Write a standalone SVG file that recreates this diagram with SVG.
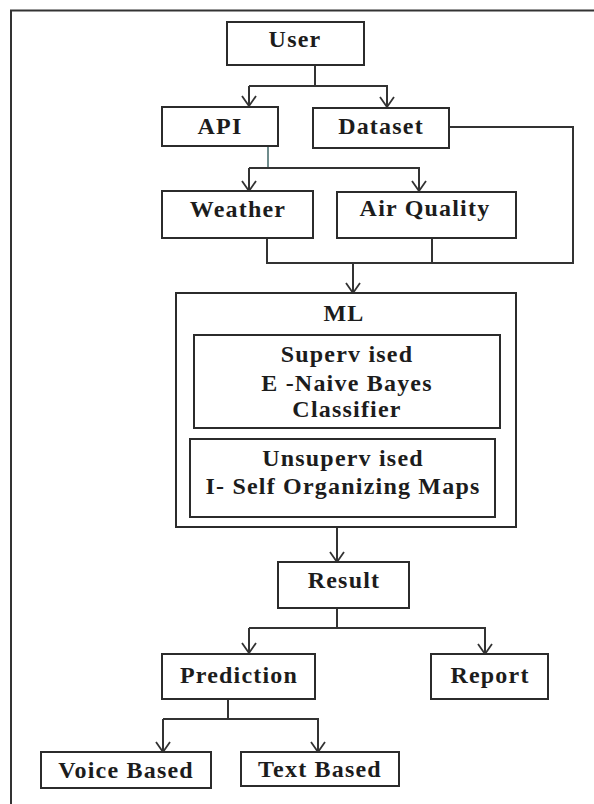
<svg xmlns="http://www.w3.org/2000/svg" width="594" height="804" viewBox="0 0 594 804">
<defs>
<marker id="arr" viewBox="0 0 13 16" refX="12" refY="8" markerWidth="13" markerHeight="16" markerUnits="userSpaceOnUse" orient="auto">
<path d="M2,1 L12,8 L2,15" fill="none" stroke="#333" stroke-width="1.8"/>
</marker>
</defs>
<style>
.box{fill:#fff;stroke:#2b2b2b;stroke-width:2}
.t{font-family:"Liberation Serif","Times New Roman",serif;font-weight:bold;font-size:24px;letter-spacing:1.2px;fill:#1c1c1c;text-anchor:middle}
.c{fill:none;stroke:#333;stroke-width:2}
.ca{fill:none;stroke:#333;stroke-width:2;marker-end:url(#arr)}
</style>
<rect width="594" height="804" fill="#fff"/>
<g id="frame">
<path d="M11,804 V10.5 H594" fill="none" stroke="#333" stroke-width="2"/>
</g>
<g id="connectors">
<path class="c" d="M315,65 V86"/>
<path class="ca" d="M249,86 H387 V107"/>
<path class="ca" d="M249,86 V106"/>
<path d="M268,146 V168" fill="none" stroke="#6f8c8c" stroke-width="2"/>
<path class="ca" d="M249,168 H419 V191"/>
<path class="ca" d="M249,168 V191"/>
<path class="c" d="M449,127 H573 V263 H267 V238"/>
<path class="c" d="M432,238 V263"/>
<path class="ca" d="M353,263 V293"/>
<path class="ca" d="M337,527 V562"/>
<path class="c" d="M337,608 V628"/>
<path class="ca" d="M249,628 H485 V654"/>
<path class="ca" d="M249,628 V653"/>
<path class="c" d="M228,699 V719"/>
<path class="ca" d="M163,719 H318 V752"/>
<path class="ca" d="M163,719 V752"/>
</g>
<g id="user"><rect class="box" x="227" y="22" width="137" height="43"/><text class="t" x="295" y="47">User</text></g>
<g id="api"><rect class="box" x="162" y="107" width="116" height="39"/><text class="t" x="220" y="134">API</text></g>
<g id="dataset"><rect class="box" x="313" y="108" width="136" height="40"/><text class="t" x="381" y="134">Dataset</text></g>
<g id="weather"><rect class="box" x="162" y="191" width="151" height="47"/><text class="t" x="238" y="217">Weather</text></g>
<g id="airquality"><rect class="box" x="337" y="192" width="179" height="46"/><text class="t" x="425" y="216">Air Quality</text></g>
<g id="ml"><rect class="box" x="176" y="293" width="340" height="234"/><text class="t" x="344" y="321">ML</text></g>
<g id="supervised"><rect class="box" x="194" y="335" width="306" height="93"/>
<text class="t" x="347" y="362">Superv ised</text>
<text class="t" x="347" y="391">E -Naive Bayes</text>
<text class="t" x="347" y="417">Classifier</text></g>
<g id="unsupervised"><rect class="box" x="190" y="439" width="305" height="78"/>
<text class="t" x="343" y="466">Unsuperv ised</text>
<text class="t" x="343" y="494">I- Self Organizing Maps</text></g>
<g id="result"><rect class="box" x="278" y="562" width="131" height="46"/><text class="t" x="344" y="588">Result</text></g>
<g id="prediction"><rect class="box" x="162" y="654" width="153" height="45"/><text class="t" x="239" y="683">Prediction</text></g>
<g id="report"><rect class="box" x="431" y="654" width="117" height="45"/><text class="t" x="490" y="683">Report</text></g>
<g id="voice"><rect class="box" x="41" y="752" width="170" height="36"/><text class="t" x="126" y="778">Voice Based</text></g>
<g id="textbased"><rect class="box" x="241" y="752" width="158" height="34"/><text class="t" x="320" y="777">Text Based</text></g>
</svg>
